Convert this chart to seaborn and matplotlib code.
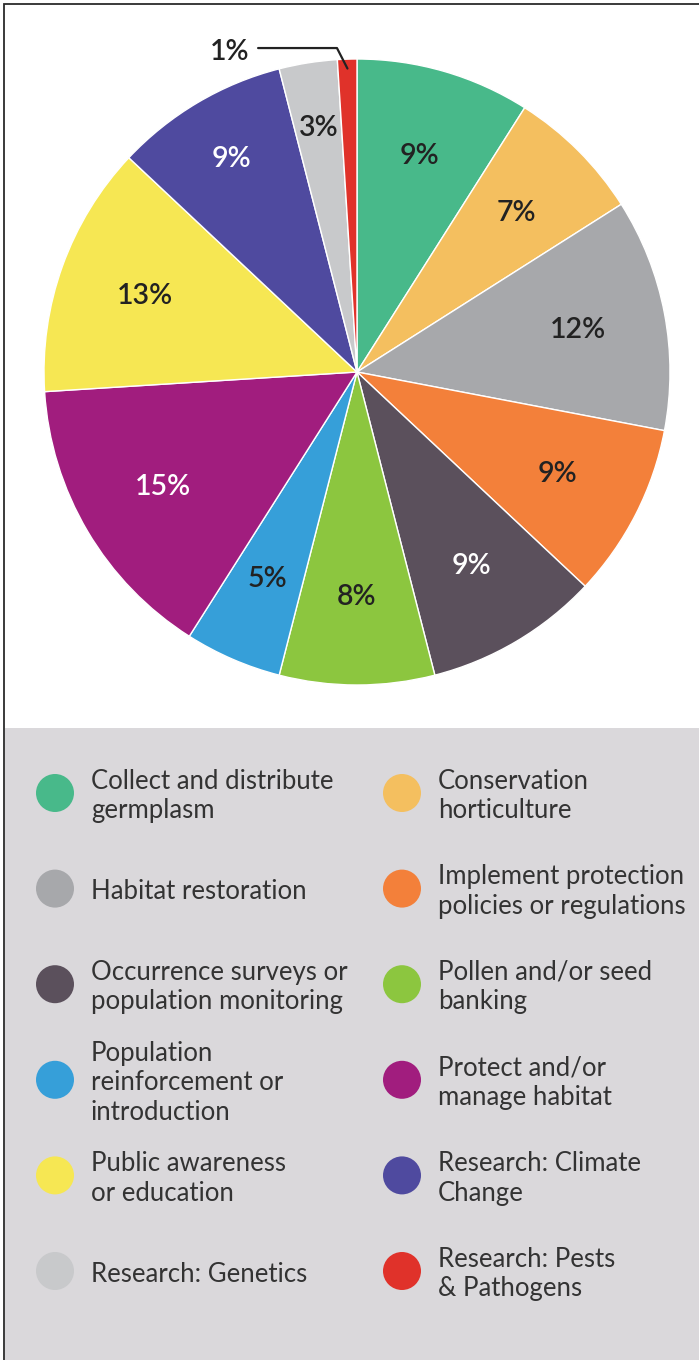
import numpy as np
import matplotlib
matplotlib.use("Agg")
import matplotlib.pyplot as plt
from matplotlib.patches import Rectangle, Circle
import seaborn as sns

# Share of conservation activities by category
categories = [
    "Collect and distribute\ngermplasm",
    "Conservation\nhorticulture",
    "Habitat restoration",
    "Implement protection\npolicies or regulations",
    "Occurrence surveys or\npopulation monitoring",
    "Pollen and/or seed\nbanking",
    "Population\nreinforcement or\nintroduction",
    "Protect and/or\nmanage habitat",
    "Public awareness\nor education",
    "Research: Climate\nChange",
    "Research: Genetics",
    "Research: Pests\n& Pathogens",
]
shares = [9, 7, 12, 9, 9, 8, 5, 15, 13, 9, 3, 1]
colors = ["#48b98a", "#f4bf5f", "#a7a8ab", "#f3803a", "#5b505c", "#8cc63f",
          "#369fd9", "#a11d7e", "#f6e753", "#4f4a9f", "#c8c9cb", "#e0322a"]
label_colors = ["#222222", "#222222", "#222222", "#222222", "#ffffff", "#222222",
                "#222222", "#ffffff", "#222222", "#ffffff", "#222222", "#222222"]

sns.set_theme(style="white")
plt.rcParams["font.family"] = ["Lato", "DejaVu Sans"]

W, H = 699, 1360
fig = plt.figure(figsize=(W / 100, H / 100), dpi=100)
fig.patch.set_facecolor("white")

# grey legend band and frame
fig.patches.append(Rectangle((5 / W, 0), 1, (H - 728) / H, transform=fig.transFigure,
                             facecolor="#dad8db", edgecolor="none", zorder=-2))
fig.patches.append(Rectangle((4 / W, -0.05), 1.2, 1.05 - 4 / H, transform=fig.transFigure,
                             facecolor="none", edgecolor="#2b2b2b", lw=1.3, zorder=5))

# pie
cx, cy, r = 357, 372, 313
ax = fig.add_axes([(cx - r) / W, 1 - (cy + r) / H, 2 * r / W, 2 * r / H])
wedges, texts, autotexts = ax.pie(
    shares, colors=colors, startangle=90, counterclock=False,
    autopct=lambda p: f"{p:.0f}%" if p >= 2 else "", pctdistance=0.72,
    wedgeprops=dict(edgecolor="white", linewidth=1),
    textprops=dict(fontsize=20.5, fontweight="semibold"))
ax.set_xlim(-1, 1)
ax.set_ylim(-1, 1)
ax.set_aspect("equal")
ax.axis("off")

# narrow upper slices carry their labels a little further out
radius_override = {9: 0.79, 10: 0.79}
cum = np.cumsum([0] + shares[:-1])
for i, t in enumerate(autotexts):
    t.set_color(label_colors[i])
    if i in radius_override:
        ang = np.deg2rad(90 - 3.6 * (cum[i] + shares[i] / 2))
        rr = radius_override[i]
        t.set_position((rr * np.cos(ang), rr * np.sin(ang)))

# callout for the smallest slice
i = len(shares) - 1
ang = np.deg2rad(90 - 3.6 * (cum[i] + shares[i] / 2))
px, py = 0.97 * np.cos(ang), 0.97 * np.sin(ang)
ax.plot([px, -0.064, -0.316], [py, 1.035, 1.035], color="#222222", lw=1.6, clip_on=False)
ax.text(-0.345, 1.022, f"{shares[i]}%", ha="right", va="center", fontsize=20.5,
        fontweight="semibold", color="#222222", clip_on=False)

# legend
lax = fig.add_axes([0, 0, 1, 1], facecolor="none")
lax.set_xlim(0, W)
lax.set_ylim(H, 0)
lax.axis("off")
for k, (lab, col) in enumerate(zip(categories, colors)):
    row, c = divmod(k, 2)
    my = 793 + row * 95.6
    mx = 55 + c * 347
    lax.add_patch(Circle((mx, my), 19, facecolor=col, edgecolor="none"))
    lax.text(mx + 36, my + 3, lab, ha="left", va="center", fontsize=18.5,
             color="#333333", linespacing=1.23)

fig.savefig("out.png", dpi=100)
